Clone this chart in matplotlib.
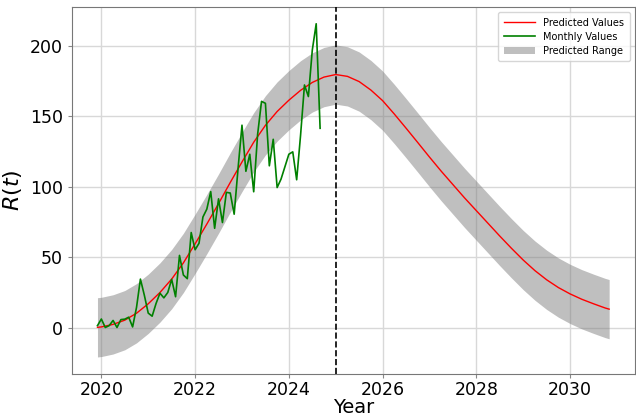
import matplotlib
matplotlib.use("Agg")
import matplotlib.pyplot as plt
import numpy as np

# Predicted curve
pred_years = [2019.917, 2020.0, 2020.25, 2020.5, 2020.75, 2021.0, 2021.25, 2021.5, 2021.75,
              2022.0, 2022.25, 2022.5, 2022.75, 2023.0, 2023.25, 2023.5, 2023.75,
              2024.0, 2024.25, 2024.5, 2024.75, 2025.0, 2025.25, 2025.5, 2025.75,
              2026.0, 2026.25, 2026.5, 2026.75, 2027.0, 2027.25, 2027.5, 2027.75,
              2028.0, 2028.25, 2028.5, 2028.75, 2029.0, 2029.25, 2029.5, 2029.75,
              2030.0, 2030.25, 2030.5, 2030.75, 2030.833]
pred_values = [0.3, 0.6, 2.4, 5.4, 10.3, 17.0, 25.0, 34.5, 46.0,
               59.5, 73.5, 88.0, 103.0, 117.5, 131.5, 143.5, 153.3,
               161.3, 168.3, 173.9, 177.7, 179.5, 178.2, 174.5, 168.5,
               161.0, 151.5, 141.5, 131.3, 121.0, 111.0, 101.5, 92.0,
               83.0, 74.0, 65.0, 56.3, 48.0, 40.5, 34.0, 28.5,
               24.0, 20.2, 17.0, 14.0, 13.2]
range_halfwidth = 21.0

# Monthly observed values, Dec 2019 .. Sep 2024
monthly_values = [1.5,
                  6.2, 0.2, 1.5, 5.2, 0.2, 5.8, 6.1, 7.5, 0.6, 14.4, 34.5, 23.1,
                  10.4, 8.2, 17.2, 24.5, 21.2, 25.0, 34.3, 22.0, 51.3, 37.4, 34.8, 67.5,
                  55.3, 59.9, 78.5, 84.1, 96.5, 70.5, 91.4, 74.6, 96.0, 95.5, 80.5, 113.1,
                  143.6, 110.9, 123.0, 96.4, 137.0, 160.5, 159.1, 114.8, 133.6, 99.4, 105.4, 114.2,
                  123.0, 124.7, 104.9, 136.5, 172.1, 163.9, 196.8, 215.5, 141.4]
monthly_start_year = 2019
monthly_start_month = 12

divider_year = 2025.0

monthly_years = [monthly_start_year + (monthly_start_month - 1 + i) / 12.0
                 for i in range(len(monthly_values))]

pred = np.array(pred_values)
lower = pred - range_halfwidth
upper = pred + range_halfwidth

fig = plt.figure(figsize=(6.36, 4.17), dpi=100)
ax = fig.add_axes([0.113, 0.104, 0.885, 0.879])

ax.plot(pred_years, pred_values, color="red", lw=1.0, label="Predicted Values", zorder=3)
ax.plot(monthly_years, monthly_values, color="green", lw=1.2, label="Monthly Values", zorder=4)
ax.fill_between(pred_years, lower, upper, color="gray", alpha=0.5, lw=0,
                label="Predicted Range", zorder=2)
ax.axvline(divider_year, color="black", ls="--", lw=1.2, zorder=5)

ax.grid(True, color="#d8d8d8", lw=1.0, zorder=0)
ax.set_axisbelow(True)
ax.set_xticks([2020, 2022, 2024, 2026, 2028, 2030])
ax.set_yticks([0, 50, 100, 150, 200])
ax.tick_params(labelsize=12.5, length=3, color="#888888")
ax.tick_params(axis="x", pad=2)
for s in ax.spines.values():
    s.set_color("#777777")
ax.set_xlabel("Year", fontsize=14, va="bottom")
ax.xaxis.set_label_coords(0.5, -0.117)
ax.set_ylabel(r"$R(t)$", fontsize=16)
ax.legend(loc="upper right", fontsize=7, handlelength=3.2, borderpad=0.6, labelspacing=0.4)

fig.savefig("out.png", dpi=100)
